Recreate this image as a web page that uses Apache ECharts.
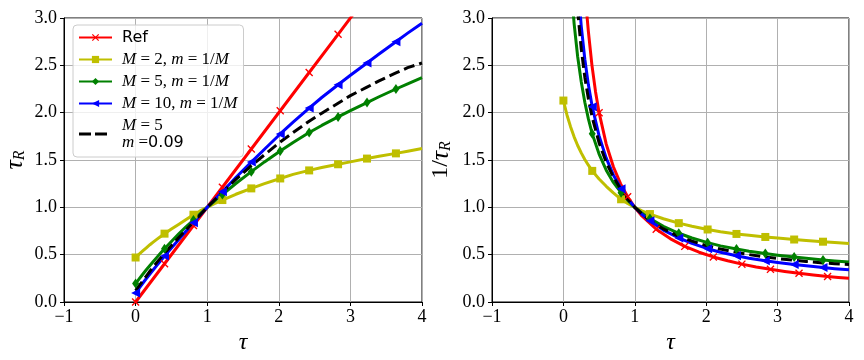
<!DOCTYPE html>
<html><head><meta charset="utf-8">
<script src="https://cdn.jsdelivr.net/npm/echarts@6/dist/echarts.min.js"></script>
<style>html,body{margin:0;padding:0;background:#fff}#c{width:864px;height:360px}</style>
</head><body><div id="c"></div>
<script>
// ---- data ----
const tau = [0,0.05,0.1,0.15,0.2,0.25,0.3,0.35,0.404,0.5,0.6,0.7,0.808,0.9,1.0,1.1,1.212,1.4,1.616,1.8,2.02,2.2,2.424,2.6,2.828,3.0,3.232,3.4,3.636,3.8,4.0];
const markerTau = [0,0.404,0.808,1.212,1.616,2.02,2.424,2.828,3.232,3.636];
const tauR_M2 = [0.47,0.506,0.54,0.573,0.605,0.635,0.664,0.692,0.722,0.77,0.818,0.868,0.922,0.962,1.0,1.038,1.077,1.138,1.2,1.25,1.305,1.348,1.39,1.42,1.455,1.48,1.515,1.54,1.57,1.593,1.622];
const tauR_M5 = [0.195,0.245,0.293,0.34,0.386,0.43,0.474,0.517,0.563,0.64,0.718,0.792,0.866,0.93,1.0,1.066,1.135,1.252,1.377,1.48,1.595,1.685,1.79,1.865,1.955,2.022,2.107,2.168,2.25,2.305,2.37];
const tauR_M10 = [0.095,0.147,0.198,0.248,0.296,0.343,0.39,0.436,0.485,0.57,0.658,0.745,0.836,0.915,1.0,1.08,1.165,1.315,1.478,1.614,1.775,1.9,2.048,2.16,2.295,2.395,2.525,2.62,2.75,2.84,2.945];
const tauR_M5m = [0.12,0.172,0.223,0.274,0.325,0.374,0.421,0.466,0.513,0.595,0.678,0.758,0.843,0.92,1.0,1.075,1.16,1.295,1.44,1.555,1.69,1.79,1.91,1.995,2.1,2.18,2.27,2.335,2.42,2.475,2.525];
const inv_M2 = [2.128,1.976,1.852,1.745,1.653,1.575,1.506,1.445,1.385,1.299,1.222,1.152,1.085,1.04,1.0,0.963,0.929,0.879,0.833,0.8,0.766,0.742,0.719,0.704,0.687,0.676,0.66,0.649,0.637,0.628,0.617];
const inv_M5 = [5.128,4.082,3.413,2.941,2.591,2.326,2.11,1.934,1.776,1.563,1.393,1.263,1.155,1.075,1.0,0.938,0.881,0.799,0.726,0.676,0.627,0.593,0.559,0.536,0.512,0.495,0.475,0.461,0.444,0.434,0.422];
const inv_M10 = [10.53,6.8,5.05,4.03,3.378,2.915,2.564,2.294,2.062,1.754,1.52,1.342,1.196,1.093,1.0,0.926,0.858,0.76,0.677,0.62,0.563,0.526,0.488,0.463,0.436,0.418,0.396,0.382,0.364,0.352,0.34];
const inv_M5m = [8.33,5.81,4.48,3.65,3.077,2.674,2.375,2.146,1.949,1.681,1.475,1.319,1.186,1.087,1.0,0.93,0.862,0.772,0.694,0.643,0.592,0.559,0.524,0.501,0.476,0.459,0.441,0.428,0.413,0.404,0.396];
const refTau = [0,0.404,0.808,1.212,1.616,2.02,2.424,2.828,3.232];
const refVal = [0,0.404,0.808,1.212,1.616,2.02,2.424,2.828,3.232];
const refInvTau = [0.3,0.333,0.35,0.4,0.45,0.5,0.6,0.7,0.8,0.9,1.0,1.1,1.3,1.5,1.7,1.9,2.1,2.3,2.5,2.7,2.9,3.1,3.3,3.5,3.7,3.85,4.0];
const refInvVal = [3.333,3.0,2.857,2.5,2.222,2.0,1.667,1.429,1.25,1.111,1.0,0.909,0.769,0.667,0.588,0.526,0.476,0.435,0.4,0.37,0.345,0.323,0.303,0.286,0.27,0.26,0.25];
const refInvMarkers = [0.5,0.9,1.3,1.7,2.1,2.5,2.9,3.3,3.7];
const xTickLabels = {'-1':'\u22121','0':'0','1':'1','2':'2','3':'3','4':'4'};
const legendLabels = {
  'Ref': '{s|Ref}',
  'M2': '{i|M}{r| = 2, }{i|m}{r| = 1/}{i|M}',
  'M5': '{i|M}{r| = 5, }{i|m}{r| = 1/}{i|M}',
  'M10': '{i|M}{r| = 10, }{i|m}{r| = 1/}{i|M}',
  'M5m': '{i|M}{r| = 5}\n{i|m}{r| =}{s|0.09}'
};
// --------------------------------------

const SERIF = 'Liberation Serif';
function pts(xs, ys, marks) {
  return xs.map((x, i) => {
    const o = { value: [x, ys[i]] };
    if (!marks.some(m => Math.abs(m - x) < 1e-6)) o.symbol = 'none';
    return o;
  });
}
const X_PATH = 'path://M0,1.2L1.2,0L5,3.8L8.8,0L10,1.2L6.2,5L10,8.8L8.8,10L5,6.2L1.2,10L0,8.8L3.8,5Z';
const TRI_LEFT = 'path://M0,5L9,0L9,10Z';
const styles = {
  Ref: { color: '#ff0000', symbol: X_PATH, symbolSize: 8 },
  M2: { color: '#bfbf00', symbol: 'rect', symbolSize: 8 },
  M5: { color: '#008000', symbol: 'diamond', symbolSize: [7, 10] },
  M10: { color: '#0000ff', symbol: TRI_LEFT, symbolSize: 9 },
  M5m: { color: '#000000', symbol: 'none', symbolSize: 0, dash: [11, 5] }
};
function ser(name, gi, data) {
  const s = styles[name];
  return {
    name, type: 'line', xAxisIndex: gi, yAxisIndex: gi, data,
    smooth: false, clip: true, showAllSymbol: true,
    symbol: s.symbol, symbolSize: s.symbolSize, animation: false,
    itemStyle: { color: s.color },
    lineStyle: { color: s.color, width: 3, type: s.dash || 'solid', join: 'round' },
    emphasis: { disabled: true }
  };
}
const serifLabel = { color: '#000', fontFamily: SERIF, fontSize: 18 };
function xAx(gi) {
  return {
    type: 'value', gridIndex: gi, min: -1, max: 4, interval: 1,
    axisLine: { show: true, onZero: false, lineStyle: { color: '#000', width: 1 } },
    axisTick: { show: true, length: 4, lineStyle: { color: '#000' } },
    axisLabel: Object.assign({ margin: 6, formatter: v => xTickLabels[String(v)] }, serifLabel),
    splitLine: { show: true, lineStyle: { color: '#b0b0b0', width: 1 } },
    name: '{t|τ}', nameLocation: 'middle', nameGap: 29,
    nameTextStyle: { rich: { t: { fontFamily: SERIF, fontStyle: 'italic', fontSize: 24, color: '#000' } } }
  };
}
function yAx(gi, nm, gap) {
  return {
    type: 'value', gridIndex: gi, min: 0, max: 3, interval: 0.5,
    axisLine: { show: true, onZero: false, lineStyle: { color: '#000', width: 1 } },
    axisTick: { show: true, length: 4, lineStyle: { color: '#000' } },
    axisLabel: Object.assign({ margin: 7, formatter: v => v.toFixed(1) }, serifLabel),
    splitLine: { show: true, lineStyle: { color: '#b0b0b0', width: 1 } },
    name: nm, nameLocation: 'middle', nameGap: gap, nameRotate: 90,
    nameTextStyle: { rich: {
      n: { fontFamily: SERIF, fontSize: 24, color: '#000', lineHeight: 26 },
      t: { fontFamily: SERIF, fontStyle: 'italic', fontSize: 26, color: '#000', lineHeight: 26 },
      s: { fontFamily: SERIF, fontStyle: 'italic', fontSize: 16, color: '#000', lineHeight: 16, verticalAlign: 'bottom', padding: [8, 0, 0, 0] }
    } }
  };
}
const chart = echarts.init(document.getElementById('c'), null, { renderer: 'canvas' });
const rs = (fs, lh, it, fam) => ({ fontFamily: fam || SERIF, fontStyle: it ? 'italic' : 'normal', fontSize: fs, lineHeight: lh, color: '#000' });
chart.setOption({
  animation: false,
  backgroundColor: '#fff',
  grid: [
    { left: 64, top: 18, width: 358, height: 284, show: true, borderColor: '#000', borderWidth: 1, backgroundColor: 'transparent' },
    { left: 492, top: 18, width: 357, height: 284, show: true, borderColor: '#000', borderWidth: 1, backgroundColor: 'transparent' }
  ],
  xAxis: [xAx(0), xAx(1)],
  yAxis: [yAx(0, '{t|τ}{s|R}', 36), yAx(1, '{n|1/}{t|τ}{s|R}', 38)],
  legend: {
    orient: 'vertical', left: 73, top: 25, padding: [4, 6, 6, 5], itemGap: 5,
    itemWidth: 33, itemHeight: 9,
    backgroundColor: 'rgba(255,255,255,0.8)', borderColor: '#cccccc', borderWidth: 1, borderRadius: 4,
    data: [{ name: 'Ref' }, { name: 'M2' }, { name: 'M5' }, { name: 'M10' },
      { name: 'M5m', icon: 'path://M0,0h12v3h-12zM16,0h12v3h-12zM32.9,1h0.1v0.1h-0.1z' }],
    formatter: n => legendLabels[n],
    selectedMode: false,
    textStyle: { padding: [0, 0, 0, 5], lineHeight: 17, fontSize: 17, rich: {
      i: rs(17, 17, true), r: rs(17, 17, false), s: rs(16, 17, false, 'DejaVu Sans')
    } }
  },
  series: [
    ser('Ref', 0, pts(refTau, refVal, markerTau)),
    ser('M2', 0, pts(tau, tauR_M2, markerTau)),
    ser('M5', 0, pts(tau, tauR_M5, markerTau)),
    ser('M10', 0, pts(tau, tauR_M10, markerTau)),
    ser('M5m', 0, pts(tau, tauR_M5m, [])),
    ser('Ref', 1, pts(refInvTau, refInvVal, refInvMarkers)),
    ser('M2', 1, pts(tau, inv_M2, markerTau)),
    ser('M5', 1, pts(tau, inv_M5, markerTau)),
    ser('M10', 1, pts(tau, inv_M10, markerTau)),
    ser('M5m', 1, pts(tau, inv_M5m, []))
  ]
});
</script></body></html>
